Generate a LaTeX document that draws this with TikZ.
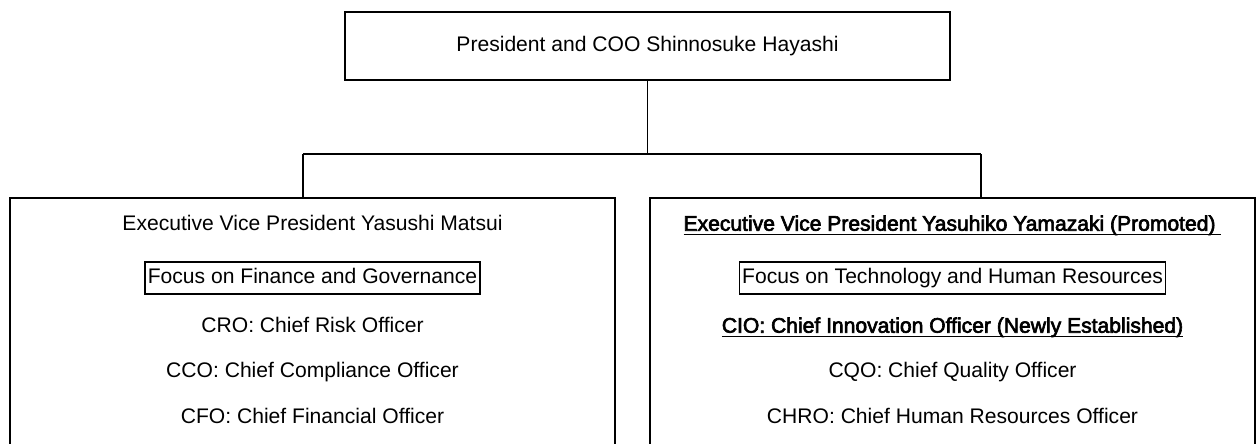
\documentclass[tikz,border=0pt]{standalone}
\usepackage{fontspec}
\setmainfont{Liberation Sans}
\newfontfamily\heavyfont[FakeBold=3]{Liberation Sans}
\usepackage{tikz}
\usetikzlibrary{positioning}
\newcommand{\ulbox}[1]{\setbox0\hbox{#1}\leavevmode\rlap{\rule[-2.6pt]{\wd0}{1pt}}\box0}

\begin{document}
\begin{tikzpicture}[x=0.02cm, y=-0.02cm]
	\tikzstyle{every node} = [font=\fontsize{12}{14}\selectfont, text height=9pt, text depth=2.5pt, inner sep=0pt]
	\tikzstyle{post} = [draw=black, line width=0.8pt, rectangle, minimum width=12.1cm]
	\tikzstyle{focus} = [draw=black, line width=0.8pt, rectangle, inner xsep=1.5pt, minimum height=0.64cm]
\useasboundingbox (0,0) rectangle (1260,443);
\clip (0,0) rectangle (1260,443);

\node[post, minimum height=1.36cm] (pres) at (647.5,46) {President and COO Shinnosuke Hayashi};
\node[post, minimum height=5.28cm] (matsui) at (312.5,330) {};
\node[post, minimum height=5.28cm] (yamazaki) at (952.5,330) {};

	\coordinate (bus) at (647.5,154);
	\coordinate (busL) at (303,154);
	\coordinate (busR) at (981,154);
	\path[draw, line width=0.8pt] (pres.south) -- (bus);
	\path[draw, line width=0.8pt] (busL) -- (busR);
	\path[draw, line width=0.8pt] (busL) -- (busL |- matsui.north);
	\path[draw, line width=0.8pt] (busR) -- (busR |- yamazaki.north);

    % left column
    \node (matsuiT) at (312.5,225) {Executive Vice President Yasushi Matsui};
    \node[focus] (matsuiF) at (312.5,278) {Focus on Finance and Governance};
    \node (cro) at (312.5,327) {CRO: Chief Risk Officer};
    \node (cco) at (312.5,372) {CCO: Chief Compliance Officer};
    \node (cfo) at (312.5,418) {CFO: Chief Financial Officer};

    % right column
    \node (yamazakiT) at (952.5,225) {\heavyfont\ulbox{Executive Vice President Yasuhiko Yamazaki (Promoted)\ }};
    \node[focus] (yamazakiF) at (952.5,278) {Focus on Technology and Human Resources};
    \node (cio) at (952.5,327) {\heavyfont\ulbox{CIO: Chief Innovation Officer (Newly Established)}};
    \node (cqo) at (952.5,372) {CQO: Chief Quality Officer};
    \node (chro) at (952.5,418) {CHRO: Chief Human Resources Officer};
	\end{tikzpicture}
\end{document}
